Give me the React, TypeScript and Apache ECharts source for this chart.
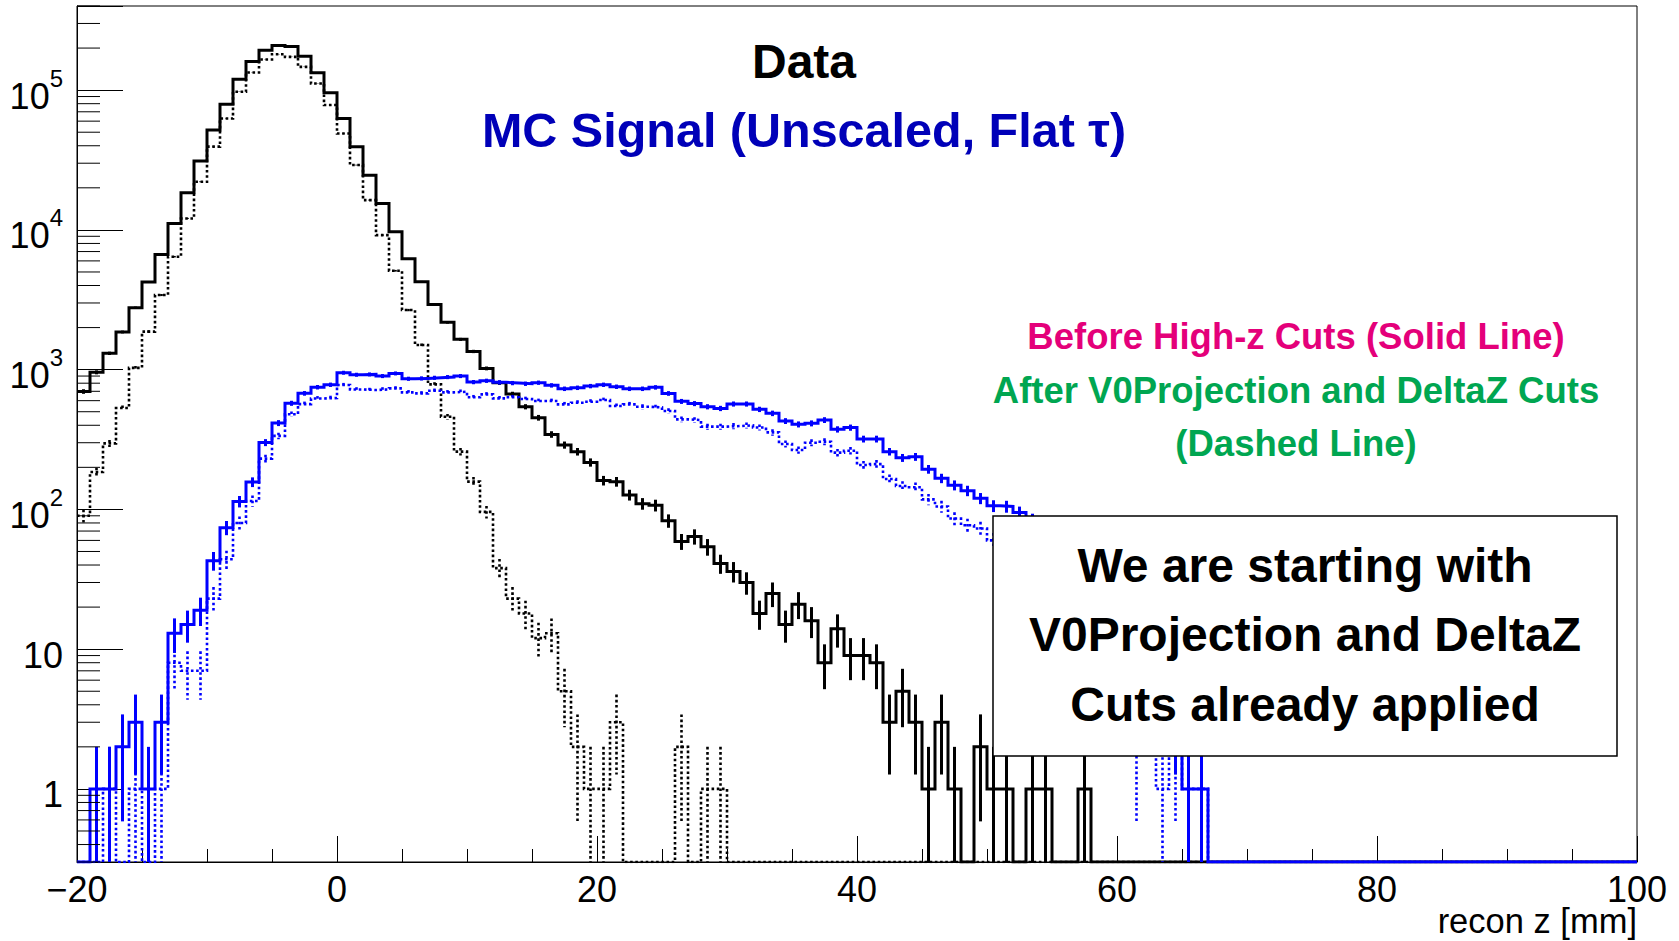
import React, { useEffect, useRef } from "react";
import * as echarts from "echarts";

// ---- axis ranges / binning ----
const X_MIN = -20;
const X_MAX = 100;
const BIN_WIDTH = 1;
const Y_MIN = 0.3;
const Y_MAX = 4e5;

// x-axis tick labels every 20 mm; y decade labels
const xMajorTicks = [-20, 0, 20, 40, 60, 80, 100];
const yDecades = [1, 10, 100, 1000, 10000, 100000];
const yMinorMultipliers = [2, 3, 4, 5, 6, 7, 8, 9];

// ---- histogram contents (1 mm bins from -20 to 100) ----
// Data, before high-z cuts (solid black)
const dataBeforeCuts = [
  698, 957, 1309, 1860, 2775, 4236, 6680, 11130, 18450, 31070,
  51760, 79400, 119900, 160300, 193200, 208600, 205300, 175000, 133000, 95700,
  62700, 39400, 24650, 15450, 9700, 6210, 4250, 2930, 2180, 1648,
  1350, 1021, 807, 669, 543, 453, 344, 289, 259, 217,
  161, 158, 127, 110, 107, 83, 59, 64, 54, 41,
  36, 30, 18, 25, 15, 21, 16, 8, 14, 9,
  9, 8, 3, 5, 3, 1, 3, 1, 0, 2,
  1, 1, 0, 1, 1, 0, 0, 1, 0, 0,
  0, 0, 0, 0, 0, 0, 0, 0, 0, 0,
  0, 0, 0, 0, 0, 0, 0, 0, 0, 0,
  0, 0, 0, 0, 0, 0, 0, 0, 0, 0,
  0, 0, 0, 0, 0, 0, 0, 0, 0, 0,
];

// Data, after V0Projection and DeltaZ cuts (dotted black)
const dataAfterCuts = [
  90, 185, 297, 531, 1030, 1870, 3420, 6430, 12080, 22100,
  39400, 62700, 97300, 133700, 165700, 180800, 173000, 146800, 111600, 78200,
  49000, 29100, 16340, 9180, 5100, 2670, 1500, 785, 460, 259,
  158, 96, 38, 23, 18, 12, 13, 5, 2, 1,
  1, 3, 0, 0, 0, 0, 2, 0, 1, 1,
  0, 0, 0, 0, 0, 0, 0, 0, 0, 0,
  0, 0, 0, 0, 0, 0, 0, 0, 0, 0,
  0, 0, 0, 0, 0, 0, 0, 0, 0, 0,
  0, 0, 0, 0, 0, 0, 0, 0, 0, 0,
  0, 0, 0, 0, 0, 0, 0, 0, 0, 0,
  0, 0, 0, 0, 0, 0, 0, 0, 0, 0,
  0, 0, 0, 0, 0, 0, 0, 0, 0, 0,
];

// MC signal, before high-z cuts (solid blue)
const mcBeforeCuts = [
  0, 1, 1, 2, 3, 1, 3, 13, 15, 19,
  43, 74, 114, 157, 301, 415, 575, 677, 749, 780,
  951, 920, 925, 900, 940, 861, 866, 875, 885, 900,
  815, 833, 811, 802, 793, 807, 772, 730, 742, 763,
  780, 755, 730, 730, 747, 676, 593, 572, 543, 528,
  568, 568, 520, 487, 429, 406, 413, 436, 374, 385,
  319, 319, 259, 234, 238, 194, 167, 149, 136, 120,
  106, 105, 95, 84, 72, 60, 48, 38, 29, 21,
  15, 10, 7, 5, 3, 1, 1, 0, 0, 0,
  0, 0, 0, 0, 0, 0, 0, 0, 0, 0,
  0, 0, 0, 0, 0, 0, 0, 0, 0, 0,
  0, 0, 0, 0, 0, 0, 0, 0, 0, 0,
];

// MC signal, after V0Projection and DeltaZ cuts (dotted blue)
const mcAfterCuts = [
  0, 0, 1, 0, 1, 0, 1, 8, 7, 7,
  23, 44, 80, 115, 231, 336, 480, 567, 622, 626,
  776, 722, 715, 722, 734, 688, 676, 706, 688, 695,
  634, 665, 623, 634, 616, 596, 596, 564, 580, 590,
  606, 549, 564, 543, 537, 506, 441, 436, 391, 391,
  395, 399, 386, 356, 294, 266, 300, 305, 255, 263,
  208, 211, 165, 147, 144, 118, 105, 86, 77, 73,
  60, 50, 40, 32, 25, 19, 14, 11, 8, 6,
  5, 2, 4, 1, 2, 1, 1, 0, 0, 0,
  0, 0, 0, 0, 0, 0, 0, 0, 0, 0,
  0, 0, 0, 0, 0, 0, 0, 0, 0, 0,
  0, 0, 0, 0, 0, 0, 0, 0, 0, 0,
];

const titleLines = ["Data", "MC Signal (Unscaled, Flat \u03c4)"];
const legendLines = [
  "Before High-z Cuts (Solid Line)",
  "After V0Projection and DeltaZ Cuts",
  "(Dashed Line)",
];
const boxLines = ["We are starting with", "V0Projection and DeltaZ", "Cuts already applied"];
const xAxisTitle = "recon z [mm]";

const FONT = '"Liberation Sans", Arial, Helvetica, sans-serif';
const DOTS = [2.6, 2.6];

function stepData(values: number[]) {
  const pts = values.map((v, i) => [X_MIN + i * BIN_WIDTH, Math.max(v, Y_MIN)]);
  pts.push([X_MAX, Math.max(values[values.length - 1], Y_MIN)]);
  return pts;
}

function errData(values: number[]) {
  return values
    .map((v, i) => [X_MIN + (i + 0.5) * BIN_WIDTH, v])
    .filter((d) => d[1] > 0);
}

function histSeries(name: string, values: number[], color: string, dotted: boolean, z: number) {
  const lineType: any = dotted ? DOTS : "solid";
  const width = dotted ? 2.6 : 3;
  return [
    {
      name,
      type: "line",
      step: "end",
      data: stepData(values),
      showSymbol: false,
      symbol: "none",
      clip: true,
      silent: true,
      z,
      lineStyle: { color, width, type: lineType, cap: "butt", join: "miter" },
    },
    {
      name: name + " errors",
      type: "custom",
      data: errData(values),
      clip: true,
      silent: true,
      z,
      renderItem: (params: any, api: any) => {
        const x = api.value(0);
        const v = api.value(1);
        const e = Math.sqrt(v);
        const lo = Math.max(v - e, Y_MIN);
        const hi = v + e;
        const p1 = api.coord([x, hi]);
        const p2 = api.coord([x, lo]);
        return {
          type: "line",
          shape: { x1: p1[0], y1: p1[1], x2: p2[0], y2: p2[1] },
          style: { stroke: color, lineWidth: width, lineDash: dotted ? DOTS : null, fill: null },
        };
      },
    },
  ];
}

function yMinorTickValues() {
  const out: number[] = [];
  for (let e = -1; e <= 5; e++) {
    for (const m of yMinorMultipliers) {
      const v = m * Math.pow(10, e);
      if (v >= Y_MIN - 1e-9 && v <= Y_MAX + 1e-9) out.push(v);
    }
  }
  return out;
}

export default function App() {
  const ref = useRef<HTMLDivElement>(null);

  useEffect(() => {
    if (!ref.current) return;
    const chart = echarts.init(ref.current, null, { renderer: "svg" });

    const option: any = {
      animation: false,
      backgroundColor: "#ffffff",
      grid: {
        left: 77,
        top: 6,
        right: 42,
        bottom: 79,
        show: true,
        borderColor: "#000",
        borderWidth: 1,
        backgroundColor: "transparent",
      },
      xAxis: {
        type: "value",
        min: X_MIN,
        max: X_MAX,
        interval: 20,
        axisLine: { show: true, onZero: false, lineStyle: { color: "#000", width: 1 } },
        axisTick: { show: true, inside: true, length: 26, lineStyle: { color: "#000", width: 1 } },
        minorTick: { show: true, splitNumber: 4, length: 13, lineStyle: { color: "#000", width: 1 } },
        splitLine: { show: false },
        minorSplitLine: { show: false },
        axisLabel: {
          show: true,
          margin: 9,
          fontSize: 36,
          fontFamily: FONT,
          color: "#000",
          showMinLabel: true,
          showMaxLabel: true,
          formatter: (v: number) =>
            xMajorTicks.includes(v) ? (v < 0 ? "\u2212" + Math.abs(v) : String(v)) : "",
        },
      },
      yAxis: {
        type: "log",
        logBase: 10,
        min: Y_MIN,
        max: Y_MAX,
        axisLine: { show: true, onZero: false, lineStyle: { color: "#000", width: 1 } },
        axisTick: { show: true, inside: true, length: 46, lineStyle: { color: "#000", width: 1 } },
        splitLine: { show: false },
        axisLabel: {
          show: true,
          margin: 14,
          color: "#000",
          fontFamily: FONT,
          fontSize: 36,
          showMinLabel: true,
          showMaxLabel: true,
          formatter: (v: number) => {
            const lg = Math.log10(v);
            const e = Math.round(lg);
            if (Math.abs(lg - e) > 1e-6) return "";
            if (!yDecades.some((d) => Math.abs(Math.log10(d) - e) < 1e-9)) return "";
            if (e === 0) return "{b|1}";
            if (e === 1) return "{b|10}";
            return "{b|10}{s|" + e + "}";
          },
          rich: {
            b: { fontSize: 36, fontFamily: FONT, color: "#000", lineHeight: 48, verticalAlign: "bottom" },
            s: { fontSize: 24, fontFamily: FONT, color: "#000", lineHeight: 24, verticalAlign: "top" },
          },
        },
      },
      series: [
        ...histSeries("Data (before)", dataBeforeCuts, "#000000", false, 3),
        ...histSeries("Data (after)", dataAfterCuts, "#000000", true, 4),
        ...histSeries("MC (before)", mcBeforeCuts, "#0000ff", false, 5),
        ...histSeries("MC (after)", mcAfterCuts, "#0000ff", true, 6),
        {
          name: "y minor ticks",
          type: "custom",
          silent: true,
          z: 10,
          data: yMinorTickValues().map((v) => [X_MIN, v]),
          renderItem: (params: any, api: any) => {
            const p = api.coord([api.value(0), api.value(1)]);
            return {
              type: "line",
              shape: { x1: p[0], y1: p[1], x2: p[0] + 23, y2: p[1] },
              style: { stroke: "#000", lineWidth: 1 },
            };
          },
        },
      ],
      graphic: [
        {
          type: "text",
          x: 804,
          y: 61,
          z: 100,
          style: {
            text: titleLines[0],
            fill: "#000",
            font: "bold 48px " + FONT,
            textAlign: "center",
            textVerticalAlign: "middle",
            align: "center",
            verticalAlign: "middle",
          },
        },
        {
          type: "text",
          x: 804,
          y: 130,
          z: 100,
          style: {
            text: titleLines[1],
            fill: "#0000b8",
            font: "bold 48.5px " + FONT,
            textAlign: "center",
            textVerticalAlign: "middle",
            align: "center",
            verticalAlign: "middle",
          },
        },
        ...legendLines.map((t, i) => ({
          type: "text",
          x: 1296,
          y: [336, 390, 443][i],
          z: 100,
          style: {
            text: t,
            fill: i === 0 ? "#e4007a" : "#00a651",
            font: "bold 36.5px " + FONT,
            textAlign: "center",
            textVerticalAlign: "middle",
            align: "center",
            verticalAlign: "middle",
          },
        })),
        {
          type: "rect",
          z: 100,
          shape: { x: 993, y: 516, width: 624, height: 240 },
          style: { fill: "#ffffff", stroke: "#000", lineWidth: 1.5 },
        },
        ...boxLines.map((t, i) => ({
          type: "text",
          x: 1305,
          y: [565, 634, 704][i],
          z: 101,
          style: {
            text: t,
            fill: "#000",
            font: "bold 48px " + FONT,
            textAlign: "center",
            textVerticalAlign: "middle",
            align: "center",
            verticalAlign: "middle",
          },
        })),
        {
          type: "text",
          x: 1637,
          y: 921,
          z: 100,
          style: {
            text: xAxisTitle,
            fill: "#000",
            font: "34.5px " + FONT,
            textAlign: "right",
            textVerticalAlign: "middle",
            align: "right",
            verticalAlign: "middle",
          },
        },
      ],
    };

    chart.setOption(option);
    return () => {
      chart.dispose();
    };
  }, []);

  return (
    <div
      ref={ref}
      style={{ position: "fixed", left: 0, top: 0, width: 1679, height: 941, background: "#fff" }}
    />
  );
}
